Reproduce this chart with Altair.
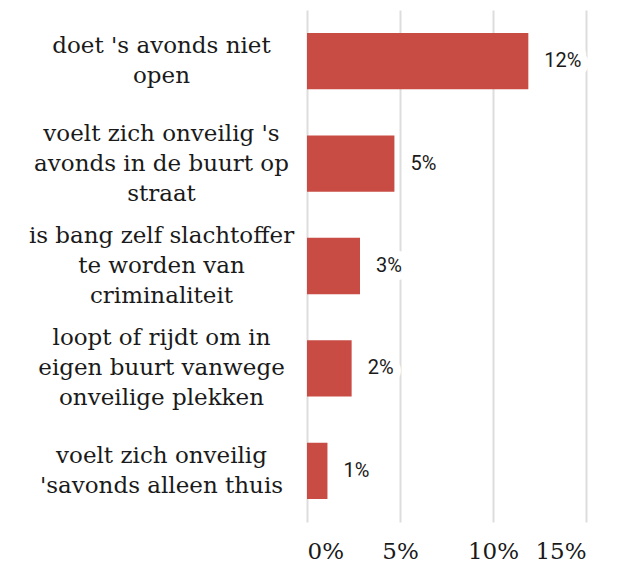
import altair as alt
import pandas as pd

categories = [
    "doet 's avonds niet|open",
    "voelt zich onveilig 's|avonds in de buurt op|straat",
    "is bang zelf slachtoffer|te worden van|criminaliteit",
    "loopt of rijdt om in|eigen buurt vanwege|onveilige plekken",
    "voelt zich onveilig|'savonds alleen thuis",
]
values = [11.9, 4.7, 2.85, 2.4, 1.1]
value_labels = ["12%", "5%", "3%", "2%", "1%"]
x_ticks = [0, 5, 10, 15]

df = pd.DataFrame({"cat": categories, "v": values, "lab": value_labels})

y = alt.Y(
    "cat:N",
    sort=categories,
    title=None,
    scale=alt.Scale(paddingInner=0.45, paddingOuter=0.225),
    axis=alt.Axis(
        domain=False,
        ticks=False,
        labelExpr="split(datum.label, '|')",
        labelFont="DejaVu Serif",
        labelFontSize=23,
        labelLineHeight=30,
        labelColor="#1a1a1a",
        labelAlign="center",
        labelBaseline="middle",
        labelPadding=146,
        labelLimit=400,
        labelOffset={
            "condition": {"test": "length(split(datum.value, '|')) > 2", "value": -30},
            "value": -15,
        },
    ),
)
x = alt.X(
    "v:Q",
    title=None,
    scale=alt.Scale(domain=[0, 15], nice=False),
    axis=alt.Axis(
        values=x_ticks,
        domain=False,
        ticks=False,
        grid=True,
        gridColor="#dddddd",
        gridWidth=2,
        labelExpr="datum.value + '%'",
        labelFont="DejaVu Serif",
        labelFontSize=23,
        labelColor="#1a1a1a",
        labelPadding=18,
    ),
)

base = alt.Chart(df)
bars = base.mark_bar(color="#c94c44").encode(x=x, y=y)
halo = base.mark_text(
    align="left", dx=16, font="Roboto", fontSize=20,
    stroke="white", strokeWidth=16, strokeJoin="round", fill="white",
).encode(x="v:Q", y=alt.Y("cat:N", sort=categories), text="lab:N")
text = base.mark_text(
    align="left", dx=16, font="Roboto", fontSize=20, color="#1a1a1a",
).encode(x="v:Q", y=alt.Y("cat:N", sort=categories), text="lab:N")

chart = (
    alt.layer(bars, halo, text)
    .properties(
        width=279,
        height=512,
        autosize=alt.AutoSizeParams(type="none"),
        padding={"left": 299, "top": 2, "right": 10, "bottom": 46},
    )
    .configure_view(stroke=None)
)

chart.save("out.html", embed_options={"renderer": "svg", "actions": False})
